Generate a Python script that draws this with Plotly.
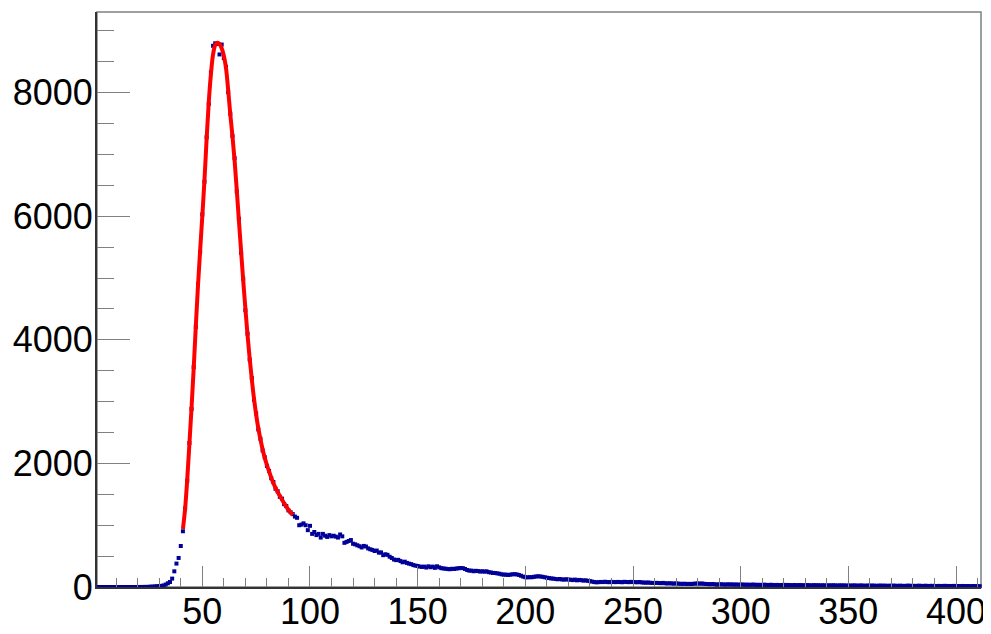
import plotly.graph_objects as go

# histogram bin centres (width 1) and counts
bin_x = list(range(1, 412))

counts_low = [0] * 20 + [1, 0, 2, 1, 3, 5, 7, 9, 12, 15,
                         18, 25, 40, 60, 81, 136, 254, 379, 470, 664]
counts_peak = [
    902, 1270, 1720, 2330, 2880, 3560, 4210, 4900, 5420, 6030,
    6560, 7280, 7820, 8330, 8760, 8800, 8790, 8620, 8780, 8560,
    8420, 8010, 7660, 7300, 6940, 6400, 5960, 5410, 4990, 4480,
    4100, 3680, 3380, 3030, 2810, 2550, 2400, 2210, 2100, 1960,
    1880, 1760, 1700, 1590, 1550, 1460, 1430, 1340, 1310, 1240,
]
counts_mid = [
    1210, 1180, 1140, 1120, 1000, 1010, 1030, 1000, 920, 990,
    860, 890, 840, 860, 800, 860, 830, 810, 840, 820,
    830, 815, 800, 850, 820, 715, 730, 745, 760, 700,
    690, 675, 660, 640, 665, 655, 625, 610, 600, 583,
    590, 556, 560, 515, 530, 520, 490, 470, 445, 435,
    440, 420, 400, 410, 390, 378, 370, 355, 346, 340,
    330, 325, 330, 315, 335, 320, 330, 310, 335, 318,
    305, 300, 296, 290, 288, 295, 292, 300, 303, 308,
    305, 292, 275, 265, 265, 255, 262, 258, 250, 255,
    248, 254, 240, 235, 228, 227, 220, 215, 205, 200,
    200, 195, 200, 205, 208, 204, 195, 182, 168, 158,
]
counts_tail = [
    156, 160, 158, 165, 170, 174, 170, 165, 158, 150,
    145, 138, 136, 130, 125, 130, 122, 120, 125, 120,
    118, 112, 120, 108, 115, 110, 104, 108, 100, 95,
    88, 80, 76, 78, 82, 80, 85, 80, 78, 83,
    80, 79, 82, 80, 77, 84, 81, 78, 83, 80,
    79, 76, 81, 74, 72, 70, 73, 68, 66, 65,
    67, 64, 62, 66, 60, 58, 61, 57, 55, 58,
    54, 52, 50, 53, 49, 51, 48, 52, 55, 57,
    54, 56, 52, 49, 47, 45, 48, 43, 40, 42,
    44, 41, 39, 43, 40, 42, 38, 41, 37, 39,
    40, 36, 38, 35, 37, 39, 34, 36, 33, 35,
    37, 34, 32, 36, 33, 31, 34, 30, 32, 35,
    31, 33, 30, 29, 32, 28, 31, 30, 27, 29,
    31, 28, 26, 30, 27, 29, 25, 28, 26, 24,
    27, 25, 28, 26, 23, 27, 24, 26, 22, 25,
    23, 24, 26, 21, 23, 25, 22, 20, 24, 21,
    23, 22, 19, 21, 23, 20, 22, 18, 21, 19,
    22, 20, 18, 21, 19, 17, 20, 22, 18, 19,
    17, 19, 21, 17, 18, 20, 16, 18, 19, 17,
    15, 18, 16, 17, 19, 15, 17, 16, 18, 14,
    16, 15, 17, 14, 16, 15, 13, 16, 14, 15,
    13,
]
counts = counts_low + counts_peak + counts_mid + counts_tail

# fitted curve (red)
fit_x = list(range(41, 93))
fit_y = [
    940, 1260, 1740, 2310, 2900, 3540, 4230, 4880, 5450, 6000,
    6580, 7250, 7850, 8300, 8620, 8770, 8810, 8790, 8720, 8600,
    8400, 8050, 7650, 7300, 6900, 6430, 5930, 5440, 4960, 4510,
    4080, 3700, 3360, 3050, 2790, 2570, 2390, 2230, 2090, 1975,
    1870, 1770, 1680, 1605, 1535, 1475, 1415, 1355, 1300, 1250,
    1205, 1165,
]

FONT = "Liberation Sans, Arial, Helvetica, sans-serif"

fig = go.Figure()
fig.add_trace(go.Scatter(
    x=bin_x, y=counts, mode="markers",
    marker=dict(symbol="square", size=4, color="rgb(0,0,153)", line=dict(width=0)),
    cliponaxis=False, showlegend=False,
))
fig.add_trace(go.Scatter(
    x=fit_x, y=fit_y, mode="lines",
    line=dict(color="#ff0000", width=4, shape="spline"),
    showlegend=False,
))

# page body has an 8px margin, so the figure is shrunk by that much
fig.update_layout(
    width=983, height=626,
    margin=dict(l=89, r=10, t=4, b=47),
    paper_bgcolor="white", plot_bgcolor="white",
    font=dict(family=FONT, size=36, color="black"),
    shapes=[dict(type="rect", xref="paper", yref="paper", x0=0, x1=1, y0=0, y1=1,
                 line=dict(color="#808080", width=1.5), layer="below")],
)
fig.update_xaxes(
    range=[1.1, 411.6], showgrid=False, zeroline=False, automargin=False,
    showline=True, linecolor="#333333", linewidth=2,
    ticks="inside", ticklen=21, tickwidth=1, tickcolor="#808080",
    tick0=0, dtick=50,
    minor=dict(ticks="inside", ticklen=9, tickwidth=1, tickcolor="#808080", dtick=10, showgrid=False),
    tickfont=dict(size=36), ticklabelstandoff=-8,
)
fig.update_yaxes(
    range=[0, 9307], showgrid=False, zeroline=False, automargin=False,
    showline=True, linecolor="#333333", linewidth=2,
    ticks="inside", ticklen=33, tickwidth=1, tickcolor="#808080",
    tick0=0, dtick=2000,
    minor=dict(ticks="inside", ticklen=17, tickwidth=1, tickcolor="#808080", dtick=500, showgrid=False),
    tickfont=dict(size=36), ticklabelstandoff=-5,
)

fig.write_html("out.html")
